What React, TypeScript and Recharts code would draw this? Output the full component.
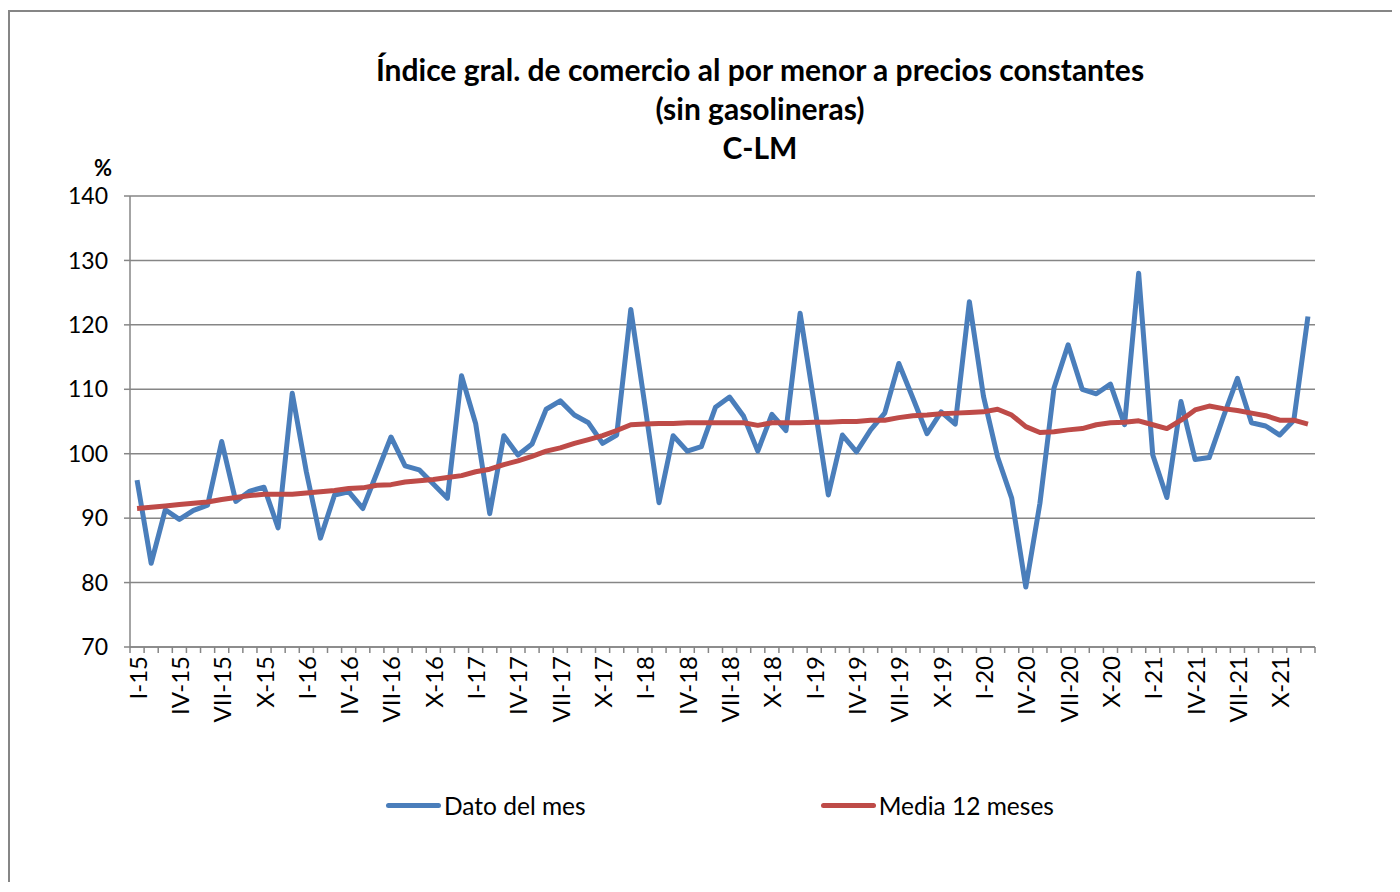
import React from "react";
import { LineChart, Line, XAxis, YAxis, CartesianGrid } from "recharts";

// categories: months I..XII of 2015-2021
const MONTHS_ROMAN = ["I", "II", "III", "IV", "V", "VI", "VII", "VIII", "IX", "X", "XI", "XII"];
const YEARS = ["15", "16", "17", "18", "19", "20", "21"];

const DATO_DEL_MES = [
  95.9, 83.0, 91.3, 89.8, 91.2, 92.0, 101.9, 92.6, 94.2, 94.8, 88.5, 109.4,
  97.2, 86.9, 93.6, 94.1, 91.5, 97.0, 102.6, 98.1, 97.5, 95.3, 93.1, 112.1,
  104.7, 90.7, 102.8, 99.8, 101.5, 106.9, 108.2, 106.0, 104.8, 101.6, 102.9, 122.4,
  107.5, 92.4, 102.8, 100.4, 101.1, 107.2, 108.8, 105.8, 100.4, 106.1, 103.6, 121.8,
  107.8, 93.6, 102.9, 100.3, 103.7, 106.3, 114.0, 108.6, 103.1, 106.5, 104.6, 123.6,
  108.9, 99.5, 93.1, 79.3, 92.3, 110.2, 116.9, 110.0, 109.3, 110.8, 104.5, 128.0,
  99.8, 93.2, 108.1, 99.1, 99.4, 105.7, 111.7, 104.8, 104.3, 102.9, 105.2, 121.3,
];

const MEDIA_12_MESES = [
  91.5, 91.7, 91.9, 92.1, 92.3, 92.5, 92.9, 93.2, 93.5, 93.7, 93.7, 93.7,
  93.9, 94.1, 94.3, 94.6, 94.7, 95.1, 95.2, 95.6, 95.8, 96.0, 96.3, 96.6,
  97.2, 97.6, 98.3, 98.9, 99.6, 100.4, 100.9, 101.6, 102.2, 102.8, 103.6, 104.5,
  104.6, 104.7, 104.7, 104.8, 104.8, 104.8, 104.8, 104.8, 104.4, 104.8, 104.8, 104.8,
  104.9, 104.9, 105.0, 105.0, 105.2, 105.2, 105.6, 105.9, 106.0, 106.2, 106.3, 106.4,
  106.5, 106.9, 106.0, 104.2, 103.3, 103.4, 103.7, 103.9, 104.5, 104.8, 104.9, 105.1,
  104.5, 103.9, 105.2, 106.8, 107.4, 107.0, 106.7, 106.3, 105.9, 105.2, 105.2, 104.6,
];

const Y_TICKS = [70, 80, 90, 100, 110, 120, 130, 140];

const SERIES = [
  { key: "dato", name: "Dato del mes", color: "#4A7EBB" },
  { key: "media", name: "Media 12 meses", color: "#BE4B48" },
];

const categories = YEARS.flatMap((y) => MONTHS_ROMAN.map((m) => `${m}-${y}`));
const data = categories.map((m, i) => ({ m, dato: DATO_DEL_MES[i], media: MEDIA_12_MESES[i] }));

const FONT = "Lato, 'Open Sans', sans-serif";
const GRID = "#868686";
const W = 1380;
const H = 870;
const PLOT_W = 1185;
const HALF = PLOT_W / data.length / 2;

function MonthTick(props: any) {
  const { x, y, payload } = props;
  const i = payload.index;
  const ty = y + 9;
  return (
    <g>
      <line x1={x - HALF} x2={x - HALF} y1={y} y2={y + 6} stroke={GRID} strokeWidth={1.5} />
      {i === data.length - 1 && (
        <line x1={x + HALF} x2={x + HALF} y1={y} y2={y + 6} stroke={GRID} strokeWidth={1.5} />
      )}
      {i % 3 === 0 && (
        <text x={x} y={ty} transform={`rotate(-90, ${x}, ${ty})`} textAnchor="end"
          dominantBaseline="central" fontSize={24} fill="#000" fontFamily={FONT}>
          {payload.value}
        </text>
      )}
    </g>
  );
}

export default function App() {
  return (
    <div style={{ position: "relative", marginTop: 2, width: 1382, height: 870,
      borderLeft: `2px solid ${GRID}`, borderTop: `2px solid ${GRID}`, fontFamily: FONT, background: "#fff" }}>
      <div style={{ position: "absolute", left: 250, top: 38, width: 1000, textAlign: "center",
        fontWeight: 700, fontSize: 30, lineHeight: "39px", color: "#000" }}>
        <div>Índice gral. de comercio al por menor a precios constantes</div>
        <div>(sin gasolineras)</div>
        <div>C-LM</div>
      </div>
      <div style={{ position: "absolute", left: 78, top: 146, width: 30, textAlign: "center",
        fontWeight: 700, fontSize: 22, lineHeight: "20px" }}>%</div>

      <LineChart width={W} height={H} data={data} margin={{ top: 184, right: 75, bottom: 135, left: 0 }}>
        <CartesianGrid vertical={false} stroke={GRID} strokeWidth={1.5} />
        <XAxis dataKey="m" interval={0} height={100} tickSize={0} tickMargin={0} tickLine={false}
          axisLine={{ stroke: GRID, strokeWidth: 1.5 }} padding={{ left: HALF, right: HALF }}
          tick={<MonthTick />} />
        <YAxis domain={[70, 140]} ticks={Y_TICKS} width={120} tickSize={6} tickMargin={16}
          axisLine={{ stroke: GRID, strokeWidth: 1.5 }} tickLine={{ stroke: GRID, strokeWidth: 1.5 }}
          tick={{ fontSize: 23, fill: "#000", fontFamily: FONT }} />
        {SERIES.map((s) => (
          <Line key={s.key} dataKey={s.key} name={s.name} stroke={s.color} strokeWidth={5}
            dot={false} isAnimationActive={false} strokeLinejoin="round" />
        ))}
      </LineChart>

      {/* legend */}
      <div style={{ position: "absolute", left: 0, top: 779, width: 1420, display: "flex",
        justifyContent: "center", gap: 235, fontSize: 24.5 }}>
        {SERIES.map((s) => (
          <div key={s.key} style={{ display: "flex", alignItems: "center" }}>
            <span style={{ display: "inline-block", width: 55, height: 5, borderRadius: 3,
              background: s.color, marginRight: 3 }} />
            <span>{s.name}</span>
          </div>
        ))}
      </div>
    </div>
  );
}
